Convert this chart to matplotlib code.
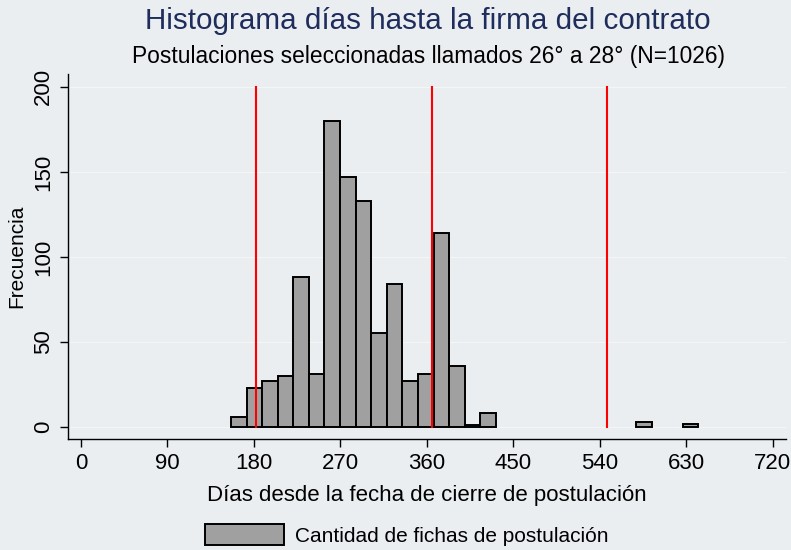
import numpy as np
import matplotlib
matplotlib.use("Agg")
import matplotlib.pyplot as plt

plt.rcParams['font.family'] = ['Liberation Sans', 'DejaVu Sans']

# Data
bin_min = 156.2
bin_max = 642.6
n_bins = 30
counts = [6, 23, 27, 30, 88, 31, 180, 147, 133, 55, 84, 27, 31, 114, 36, 1, 8,
          0, 0, 0, 0, 0, 0, 0, 0, 0, 3, 0, 0, 2]
ref_lines = [182.5, 365, 547.5]
xticks = [0, 90, 180, 270, 360, 450, 540, 630, 720]
yticks = [0, 50, 100, 150, 200]
title = "Histograma días hasta la firma del contrato"
subtitle = "Postulaciones seleccionadas llamados 26° a 28° (N=1026)"
xlabel = "Días desde la fecha de cierre de postulación"
ylabel = "Frecuencia"
legend_label = "Cantidad de fichas de postulación"

bg = '#EAEEF1'
W, H = 791, 550
fig = plt.figure(figsize=(W/100, H/100), dpi=100, facecolor=bg)
ax = fig.add_axes([68/W, 1-439/H, (786-68)/W, (439-74)/H], facecolor=bg)

edges = np.linspace(bin_min, bin_max, n_bins + 1)
width = edges[1] - edges[0]
counts_arr = np.array(counts)
nz = counts_arr > 0
bars = ax.bar(edges[:-1][nz], counts_arr[nz], width=width, align='edge', color='#A0A0A0',
              edgecolor='black', linewidth=1.4, label=legend_label, zorder=3)

for xv in ref_lines:
    ax.plot([xv, xv], [0, 200], color='#FF0000', linewidth=1.5, zorder=4)

ax.set_xlim(-13.5, 733.9)
ax.set_ylim(-7.06, 207.6)
ax.set_xticks(xticks)
ax.set_yticks(yticks)
ax.tick_params(axis='both', labelsize=16, length=6, width=1, direction='out', colors='black', pad=4)
plt.setp(ax.get_yticklabels(), rotation=90, va='center')
ax.grid(axis='y', color='#F3F5F7', linewidth=0.8, zorder=0)
ax.set_axisbelow(True)
for s in ['top', 'right']:
    ax.spines[s].set_visible(False)
for s in ['left', 'bottom']:
    ax.spines[s].set_linewidth(1.0)

ax.set_xlabel(xlabel, fontsize=16, labelpad=8)
ax.set_ylabel(ylabel, fontsize=15, labelpad=5)

fig.text(428/W, 1-21/H, title, ha='center', va='center', fontsize=21.3, color='#1F2D5C')
fig.text(428/W, 1-57/H, subtitle, ha='center', va='center', fontsize=16.4, color='black')

leg = fig.legend(handles=[bars], labels=[legend_label], loc='center', bbox_to_anchor=(407/W, 1-535/H),
                 frameon=False, fontsize=15, handlelength=3.75, handleheight=1.15, handletextpad=0.55)

fig.savefig('out.png', dpi=100, facecolor=bg)
